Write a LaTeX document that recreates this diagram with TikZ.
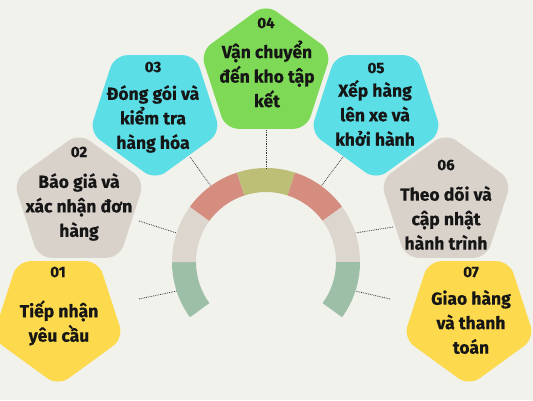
\documentclass[tikz,border=0pt]{standalone}
\usepackage{fontspec}
\setmainfont{Fira Sans}[BoldFeatures={FakeBold=0.6}]
\usetikzlibrary{calc}
\definecolor{bg}{HTML}{F2F2EC}
\definecolor{pyellow}{HTML}{FDD94D}
\definecolor{pgrey}{HTML}{D9D2CB}
\definecolor{pcyan}{HTML}{5CDEE6}
\definecolor{pgreen}{HTML}{7ED957}
\definecolor{agreen}{HTML}{9DBFA8}
\definecolor{agrey}{HTML}{DDD6CF}
\definecolor{ared}{HTML}{D58D80}
\definecolor{aolive}{HTML}{BDBF76}
\definecolor{ink}{HTML}{161616}
\tikzset{
  numtxt/.style={font=\fontsize{15}{18}\selectfont\bfseries, text=ink, inner sep=0pt},
  bodytxt/.style={font=\fontsize{17.5}{24.5}\selectfont\bfseries, text=ink, align=center, inner sep=0pt},
  link/.style={densely dotted, line width=0.8pt, draw=black!78},
  pent/.style={rounded corners=13pt}
}
\newcommand{\pentdown}[3]{% center, R, colour
  \fill[pent,#3] ($(#1)+(90:#2)$) -- ($(#1)+(162:#2)$) -- ($(#1)+(234:#2)$) -- ($(#1)+(306:#2)$) -- ($(#1)+(18:#2)$) -- cycle;}
\newcommand{\pentup}[3]{%
  \fill[pent,#3] ($(#1)+(270:#2)$) -- ($(#1)+(342:#2)$) -- ($(#1)+(54:#2)$) -- ($(#1)+(126:#2)$) -- ($(#1)+(198:#2)$) -- cycle;}
\newcommand{\seg}[3]{%
  \fill[#3] ($(C)+(#1:94)$) arc[start angle=#1, end angle=#2, radius=94] -- ($(C)+(#2:70)$) arc[start angle=#2, end angle=#1, radius=70] -- cycle;}
\begin{document}
\begin{tikzpicture}[x=1pt, y=-1pt]
\useasboundingbox (0,0) rectangle (533,400);
\clip (0,0) rectangle (533,400);
\fill[bg] (0,0) rectangle (533,400);
\coordinate (C) at (266,262);
% arc segments
\seg{144}{180}{agreen}
\seg{180}{216}{agrey}
\seg{216}{252}{ared}
\seg{252}{288}{aolive}
\seg{288}{324}{ared}
\seg{324}{360}{agrey}
\seg{360}{396}{agreen}
% pentagons
\coordinate (p1) at (58,317);
\coordinate (p2) at (79,202);
\coordinate (p3) at (155,111);
\coordinate (p4) at (266,73);
\coordinate (p5) at (376,111);
\coordinate (p6) at (446,202);
\coordinate (p7) at (469,317);
\pentup{p2}{69}{pgrey}
\pentup{p6}{69}{pgrey}
\pentdown{p1}{69}{pyellow}
\pentdown{p7}{69}{pyellow}
\pentdown{p3}{69}{pcyan}
\pentdown{p5}{69}{pcyan}
\pentup{p4}{69}{pgreen}
% connectors
\coordinate (a1) at ($(C)+(162:94)$);
\coordinate (a2) at ($(C)+(198:94)$);
\coordinate (a3) at ($(C)+(234:94)$);
\coordinate (a4) at ($(C)+(270:94)$);
\coordinate (a5) at ($(C)+(306:94)$);
\coordinate (a6) at ($(C)+(342:94)$);
\coordinate (a7) at ($(C)+(378:94)$);
\coordinate (e1) at (139,299);
\coordinate (e2) at (139,221);
\coordinate (e3) at (190,157);
\coordinate (e4) at (266,130);
\coordinate (e5) at (343,157);
\coordinate (e6) at (393,227);
\coordinate (e7) at (390,299);
\draw[link] (e1) -- (a1);
\draw[link] (e2) -- (a2);
\draw[link] (e3) -- (a3);
\draw[link] (e4) -- (a4);
\draw[link] (e5) -- (a5);
\draw[link] (e6) -- (a6);
\draw[link] (e7) -- (a7);
% texts
\node[numtxt] (n1) at (58,272) {01};
\node[bodytxt] (t1) at (59,323) {Tiếp nhận\\yêu cầu};
\node[numtxt] (n2) at (79,152) {02};
\node[bodytxt] (t2) at (79,207) {Báo giá và\\xác nhận đơn\\hàng};
\node[numtxt] (n3) at (153,67) {03};
\node[bodytxt] (t3) at (153,119) {Đóng gói và\\kiểm tra\\hàng hóa};
\node[numtxt] (n4) at (266,23) {04};
\node[bodytxt] (t4) at (267,74) {Vận chuyển\\đến kho tập\\kết};
\node[numtxt] (n5) at (376,68) {05};
\node[bodytxt] (t5) at (375,113) {Xếp hàng\\lên xe và\\khởi hành};
\node[numtxt] (n6) at (446,165) {06};
\node[bodytxt] (t6) at (446,218) {Theo dõi và\\cập nhật\\hành trình};
\node[numtxt] (n7) at (471,272) {07};
\node[bodytxt] (t7) at (471,322) {Giao hàng\\và thanh\\toán};
\end{tikzpicture}
\end{document}
